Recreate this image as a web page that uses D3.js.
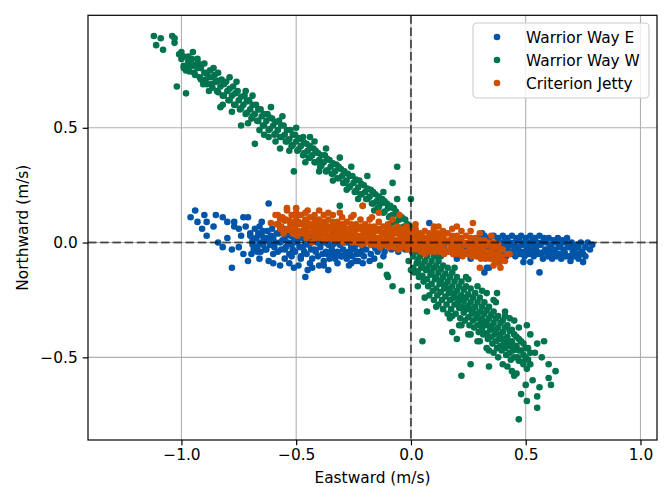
<!DOCTYPE html>
<html lang="en">
<head>
    <meta charset="UTF-8">
    <title>Eastward vs Northward velocity</title>
    <script src="https://d3js.org/d3.v7.min.js"></script>
    <style>
    body{
        margin: 0;
        background: #fff;
    }
    svg text{
        font-family: "DejaVu Sans", sans-serif;
        font-size: 15.4px;
        fill: #000;
    }
    .grid line{
        stroke: #b0b0b0;
        stroke-width: 1.1;
    }
    .axis path,
    .axis line{
        stroke: #000;
        stroke-width: 1.2;
    }
    .zero{
        stroke: #000;
        stroke-opacity: 0.6;
        stroke-width: 2;
        stroke-dasharray: 8.5,3.7;
    }
    </style>
</head>
<body>
    <script>
    var width = 666;
    var height = 487;
    var plotLeft = 88, plotRight = 657, plotTop = 15.3, plotBottom = 440;

    // data (eastward, northward) in m/s
    var seriesNames = ["Warrior Way E", "Warrior Way W", "Criterion Jetty"];
    var xTicks = [-1.0, -0.5, 0.0, 0.5, 1.0];
    var yTicks = [-0.5, 0.0, 0.5];

    var warriorWayE = [
        [-0.94,0.14],[-0.96,0.11],[-0.93,0.09],[-0.90,0.12],[-0.89,0.09],[-0.91,0.06],[-0.89,0.03],[-0.85,0.12],
        [-0.82,0.11],[-0.80,0.09],[-0.77,0.09],[-0.73,0.11],[-0.71,0.11],[-0.75,0.06],[-0.77,0.07],[-0.70,0.03],
        [-0.62,0.17],[-0.84,0.00],[-0.82,-0.02],[-0.80,0.02],[-0.78,-0.03],[-0.71,-0.08],[-0.78,-0.11],[-0.67,-0.04],
        [-0.66,-0.07],[-0.57,-0.10],[-0.53,-0.09],[-0.45,-0.12],[-0.65,0.09],[-0.645,0.05],[-0.58,0.08],[-0.74,0.03],
        [-0.69,0.00],[-0.60,-0.05],[-0.63,0.02],[-0.86,0.07],[-0.55,-0.03],[-0.52,-0.06],[-0.48,-0.07],[-0.44,-0.09],
        [-0.40,-0.10],[-0.36,-0.12],[-0.46,-0.15],[-0.51,-0.11],[-0.62,-0.08],
        [-0.60,-0.09],[-0.55,-0.07],[-0.49,-0.10],[-0.43,-0.11],[-0.38,-0.10],[-0.32,-0.09],[-0.27,-0.10],[-0.24,-0.08],
        [-0.18,-0.08],[-0.66,0.07],[-0.72,0.07],[-0.75,-0.02],[-0.73,-0.05],
        [-0.70,0.04],[-0.69,-0.01],[-0.695,-0.05],[-0.675,0.02],[-0.67,-0.02],[-0.68,0.06],
        [-0.65,0.03],[-0.645,-0.01],[-0.655,-0.04],[-0.625,0.05],[-0.62,0.01],[-0.63,-0.03],
        [-0.60,0.02],[-0.595,-0.02],[-0.605,0.06],[-0.575,0.04],[-0.57,0.00],[-0.58,-0.04],
        [-0.55,0.02],[-0.545,-0.02],[-0.555,0.06],[-0.525,0.03],[-0.52,-0.01],[-0.53,-0.05],
        [-0.50,0.04],[-0.495,0.00],[-0.505,-0.04],[-0.475,0.02],[-0.47,-0.02],[-0.48,-0.06],
        [-0.45,0.03],[-0.445,-0.01],[-0.455,-0.05],[-0.425,0.01],[-0.42,-0.03],[-0.43,-0.07],
        [-0.40,0.02],[-0.395,-0.02],[-0.405,-0.06],[-0.375,0.00],[-0.37,-0.04],[-0.38,-0.08],
        [-0.35,0.01],[-0.345,-0.03],[-0.355,-0.07],[-0.325,0.00],[-0.32,-0.04],[-0.33,-0.07],
        [-0.30,0.01],[-0.295,-0.03],[-0.305,-0.06],[-0.275,0.00],[-0.27,-0.04],[-0.28,-0.07],
        [-0.25,0.01],[-0.245,-0.03],[-0.255,-0.06],[-0.225,0.00],[-0.22,-0.04],[-0.23,-0.08],
        [-0.20,0.01],[-0.195,-0.03],[-0.205,-0.06],
        [-0.69,0.01],[-0.685,-0.03],[-0.66,0.00],[-0.665,0.04],[-0.64,0.01],[-0.635,-0.03],[-0.61,0.03],[-0.615,-0.01],
        [-0.59,0.00],[-0.585,0.04],[-0.56,0.01],[-0.565,-0.03],[-0.54,0.04],[-0.535,0.00],[-0.51,0.01],[-0.515,-0.03],
        [-0.49,0.02],[-0.485,-0.02],[-0.46,0.00],[-0.465,-0.04],[-0.44,0.01],[-0.435,-0.03],[-0.41,0.00],[-0.415,-0.04],
        [-0.39,0.00],[-0.385,-0.05],[-0.36,-0.01],[-0.365,-0.05],[-0.34,-0.01],[-0.335,-0.05],[-0.31,-0.01],[-0.315,-0.05],
        [-0.29,0.00],[-0.285,-0.05],[-0.26,-0.02],[-0.265,-0.05],[-0.24,-0.01],[-0.235,-0.05],[-0.21,-0.02],[-0.215,-0.05],
        [-0.17,-0.01],[-0.175,-0.05],[-0.14,0.00],[-0.145,-0.04],[-0.11,-0.01],[-0.115,-0.04],
        [-0.08,0.00],[-0.085,-0.03],[-0.05,-0.01],[-0.055,-0.04],[-0.02,0.00],[-0.025,-0.03],
        [0.01,-0.01],[0.005,-0.04],[0.04,0.00],[0.035,-0.03],[0.07,-0.01],[0.065,-0.04],
        [0.10,0.00],[0.095,-0.03],[0.13,-0.01],[0.125,-0.04],[0.16,0.00],[0.155,-0.04],
        [0.19,-0.01],[0.185,-0.05],[0.22,0.00],[0.215,-0.04],[0.25,-0.01],[0.245,-0.05],
        [0.28,0.01],[0.275,-0.04],
        [-0.155,-0.025],[-0.125,-0.02],[-0.095,-0.02],[-0.065,-0.025],[-0.035,-0.02],[-0.005,-0.025],[0.025,-0.02],
        [0.055,-0.025],[0.085,-0.02],[0.115,-0.025],[0.145,-0.02],[0.175,-0.03],[0.205,-0.025],[0.235,-0.03],
        [0.265,-0.025],[0.29,-0.03],[0.20,-0.07],[0.26,-0.07],[0.12,-0.06],[-0.16,-0.07],[-0.26,-0.09],[-0.12,-0.06],
        [0.08,0.085],[0.33,-0.11],[0.32,-0.13],[0.56,-0.13],[0.49,-0.085],[0.52,-0.085],[0.31,0.04],
        [-0.21,-0.09],[-0.30,-0.06],[-0.34,-0.05],[0.75,-0.085],[0.79,-0.01],[0.34,-0.11],
        [0.30,0.02],[0.305,-0.02],[0.295,-0.06],[0.32,0.03],[0.325,-0.01],[0.315,-0.05],
        [0.34,0.02],[0.345,-0.02],[0.335,-0.06],[0.36,0.03],[0.365,-0.01],[0.355,-0.05],
        [0.38,0.02],[0.385,-0.02],[0.375,-0.05],[0.40,0.03],[0.405,-0.01],[0.395,-0.05],
        [0.42,0.02],[0.425,-0.02],[0.415,-0.06],[0.44,0.03],[0.445,-0.01],[0.435,-0.05],
        [0.46,0.02],[0.465,-0.02],[0.455,-0.06],[0.48,0.03],[0.485,-0.01],[0.475,-0.05],
        [0.50,0.02],[0.505,-0.02],[0.495,-0.06],[0.52,0.03],[0.525,-0.01],[0.515,-0.05],
        [0.54,0.02],[0.545,-0.02],[0.535,-0.06],[0.56,0.03],[0.565,-0.01],[0.555,-0.05],
        [0.58,0.02],[0.585,-0.03],[0.575,-0.07],[0.60,0.02],[0.605,-0.02],[0.595,-0.06],
        [0.62,0.01],[0.625,-0.03],[0.615,-0.07],[0.64,0.02],[0.645,-0.02],[0.635,-0.06],
        [0.66,0.01],[0.665,-0.03],[0.655,-0.07],[0.68,0.02],[0.685,-0.02],[0.675,-0.06],
        [0.70,0.00],[0.705,-0.04],[0.695,-0.08],[0.72,-0.01],[0.725,-0.05],[0.715,-0.03],
        [0.74,0.00],[0.745,-0.04],[0.76,-0.02],[0.78,-0.03],[0.77,0.00],
        [0.31,0.00],[0.31,-0.035],[0.33,0.00],[0.33,-0.035],[0.35,0.00],[0.35,-0.04],[0.37,0.00],[0.37,-0.035],
        [0.39,0.00],[0.39,-0.035],[0.41,0.01],[0.41,-0.035],[0.43,0.00],[0.43,-0.04],[0.45,0.00],[0.45,-0.035],
        [0.47,0.01],[0.47,-0.035],[0.49,0.00],[0.49,-0.04],[0.51,0.00],[0.51,-0.035],[0.53,0.01],[0.53,-0.035],
        [0.55,0.00],[0.55,-0.04],[0.57,0.00],[0.57,-0.045],[0.59,0.00],[0.59,-0.04],[0.61,-0.01],[0.61,-0.045],
        [0.63,0.00],[0.63,-0.045],[0.65,-0.01],[0.65,-0.05],[0.67,0.00],[0.67,-0.045],[0.69,-0.01],[0.69,-0.06],
        [0.71,-0.02],[0.71,-0.06],[0.73,-0.02],[0.73,-0.07],[0.75,-0.05],[0.76,-0.06]
    ];

    var warriorWayW = [
        [-1.12,0.90],[-1.09,0.89],[-1.04,0.90],[-1.03,0.89],[-1.11,0.86],[-1.08,0.84],[-1.03,0.87],[-1.00,0.83],
        [-0.95,0.83],[-0.97,0.81],[-1.02,0.68],[-0.98,0.65],[-0.83,0.59],[-0.74,0.51],[-0.68,0.43],[-0.51,0.31],
        [-0.06,0.33],[-0.08,0.26],[-0.06,0.19],[0.00,0.19],[-0.21,0.16],[-0.31,0.16],
        [-0.93,0.80],[-0.88,0.66],[-0.84,0.74],[-0.78,0.57],[-0.76,0.70],[-0.71,0.52],[-0.69,0.64],[-0.64,0.47],
        [-0.61,0.59],[-0.59,0.44],[-0.56,0.55],[-0.53,0.40],[-0.50,0.50],[-0.46,0.35],[-0.44,0.46],[-0.40,0.31],
        [-0.37,0.41],[-0.34,0.27],[-0.31,0.37],[-0.28,0.23],[-0.26,0.33],[-0.23,0.19],[-0.19,0.29],[-0.16,0.14],
        [-0.12,0.22],[-0.09,0.08],
        [-1.00,0.80],[-0.99,0.77],[-1.01,0.82],[-0.97,0.79],[-0.98,0.75],[-0.965,0.77],
        [-0.95,0.77],[-0.945,0.74],[-0.955,0.80],[-0.93,0.76],[-0.92,0.72],[-0.925,0.78],
        [-0.90,0.74],[-0.895,0.71],[-0.905,0.69],[-0.88,0.72],[-0.87,0.69],[-0.875,0.75],
        [-0.85,0.70],[-0.845,0.66],[-0.855,0.73],[-0.83,0.68],[-0.82,0.64],[-0.825,0.71],
        [-0.80,0.66],[-0.795,0.62],[-0.805,0.70],[-0.78,0.64],[-0.77,0.60],[-0.775,0.68],
        [-0.75,0.62],[-0.745,0.58],[-0.755,0.66],[-0.73,0.60],[-0.72,0.56],[-0.725,0.64],
        [-0.70,0.58],[-0.695,0.54],[-0.705,0.62],[-0.68,0.56],[-0.67,0.53],[-0.675,0.60],
        [-0.65,0.55],[-0.645,0.51],[-0.655,0.58],[-0.63,0.53],[-0.62,0.49],[-0.625,0.56],
        [-0.60,0.51],[-0.595,0.47],[-0.605,0.54],[-0.58,0.49],[-0.57,0.46],[-0.575,0.53],
        [-0.55,0.47],[-0.545,0.44],[-0.555,0.51],[-0.53,0.45],[-0.52,0.42],[-0.525,0.49],
        [-0.50,0.44],[-0.495,0.40],[-0.505,0.47],[-0.48,0.42],[-0.47,0.38],[-0.475,0.45],
        [-0.45,0.40],[-0.445,0.37],[-0.455,0.43],[-0.43,0.38],[-0.42,0.35],[-0.425,0.41],
        [-0.40,0.36],[-0.395,0.33],[-0.405,0.39],[-0.38,0.35],[-0.37,0.31],[-0.375,0.38],
        [-0.35,0.33],[-0.345,0.30],[-0.355,0.36],[-0.33,0.31],[-0.32,0.28],[-0.325,0.34],
        [-0.30,0.29],[-0.295,0.26],[-0.305,0.32],[-0.28,0.27],[-0.27,0.24],[-0.275,0.30],
        [-0.25,0.26],[-0.245,0.22],[-0.255,0.29],[-0.23,0.24],[-0.22,0.21],[-0.225,0.27],
        [-0.20,0.22],[-0.195,0.19],[-0.205,0.25],[-0.18,0.20],[-0.17,0.17],[-0.175,0.23],
        [-0.15,0.18],[-0.145,0.15],[-0.155,0.21],[-0.13,0.17],[-0.12,0.13],[-0.125,0.19],
        [-0.10,0.15],[-0.095,0.11],[-0.105,0.17],[-0.08,0.12],[-0.07,0.09],[-0.075,0.15],
        [-0.05,0.10],[-0.045,0.06],[-0.055,0.12],[-0.03,0.07],[-0.02,0.04],[-0.025,0.10],
        [0.00,0.04],[0.005,0.01],[-0.005,0.07],
        [-0.99,0.81],[-0.99,0.76],[-0.965,0.795],[-0.965,0.745],[-0.94,0.775],[-0.94,0.73],[-0.915,0.76],[-0.915,0.71],
        [-0.89,0.74],[-0.89,0.69],[-0.865,0.72],[-0.865,0.675],[-0.84,0.705],[-0.84,0.655],[-0.815,0.69],[-0.815,0.64],
        [-0.79,0.67],[-0.79,0.62],[-0.765,0.65],[-0.765,0.60],[-0.74,0.635],[-0.74,0.585],[-0.715,0.615],[-0.715,0.565],
        [-0.69,0.60],[-0.69,0.55],[-0.665,0.58],[-0.665,0.53],[-0.64,0.56],[-0.64,0.51],[-0.615,0.545],[-0.615,0.495],
        [-0.59,0.525],[-0.59,0.475],[-0.565,0.51],[-0.565,0.46],[-0.54,0.49],[-0.54,0.44],[-0.515,0.47],[-0.515,0.425],
        [-0.49,0.455],[-0.49,0.405],[-0.465,0.435],[-0.465,0.39],[-0.44,0.42],[-0.44,0.37],[-0.415,0.40],[-0.415,0.35],
        [-0.39,0.38],[-0.39,0.335],[-0.365,0.365],[-0.365,0.315],[-0.34,0.345],[-0.34,0.30],[-0.315,0.33],[-0.315,0.28],
        [-0.29,0.31],[-0.29,0.26],[-0.265,0.29],[-0.265,0.245],[-0.24,0.275],[-0.24,0.225],[-0.215,0.255],[-0.215,0.21],
        [-0.19,0.235],[-0.19,0.19],[-0.165,0.22],[-0.165,0.17],[-0.14,0.20],[-0.14,0.155],[-0.115,0.18],[-0.115,0.135],
        [-0.09,0.16],[-0.09,0.115],[-0.065,0.135],[-0.065,0.09],[-0.04,0.11],[-0.04,0.065],[-0.015,0.08],[-0.015,0.035],
        [-0.86,0.76],[-0.79,0.72],[-0.72,0.66],[-0.66,0.49],[-0.62,0.46],[-0.57,0.41],[-0.47,0.46],[-0.42,0.44],
        [-0.82,0.60],[-0.90,0.78],
        [0.00,0.02],[0.01,-0.03],[-0.01,-0.08],[0.00,-0.12],
        [0.02,0.01],[0.02,-0.04],[0.025,-0.09],[0.015,-0.13],
        [0.04,-0.01],[0.04,-0.06],[0.045,-0.11],[0.035,-0.15],
        [0.06,-0.03],[0.06,-0.08],[0.065,-0.12],[0.055,-0.17],
        [0.08,-0.04],[0.08,-0.10],[0.085,-0.14],[0.075,-0.19],
        [0.10,-0.06],[0.10,-0.11],[0.105,-0.16],[0.095,-0.21],
        [0.12,-0.08],[0.12,-0.13],[0.125,-0.18],[0.115,-0.23],
        [0.14,-0.10],[0.14,-0.15],[0.145,-0.20],[0.135,-0.25],
        [0.16,-0.11],[0.16,-0.17],[0.165,-0.22],[0.155,-0.27],
        [0.18,-0.13],[0.18,-0.19],[0.185,-0.24],[0.175,-0.29],
        [0.20,-0.15],[0.20,-0.21],[0.205,-0.26],[0.195,-0.31],
        [0.22,-0.17],[0.22,-0.23],[0.225,-0.28],[0.215,-0.33],
        [0.24,-0.19],[0.24,-0.24],[0.245,-0.29],[0.235,-0.34],
        [0.26,-0.20],[0.26,-0.26],[0.265,-0.31],[0.255,-0.36],
        [0.28,-0.22],[0.28,-0.28],[0.285,-0.33],[0.275,-0.37],
        [0.30,-0.24],[0.30,-0.30],[0.305,-0.35],[0.295,-0.39],
        [0.32,-0.26],[0.32,-0.31],[0.325,-0.36],[0.315,-0.40],
        [0.34,-0.28],[0.34,-0.33],[0.345,-0.38],[0.335,-0.42],
        [0.36,-0.30],[0.36,-0.35],[0.365,-0.40],[0.355,-0.44],
        [0.38,-0.32],[0.38,-0.37],[0.385,-0.42],[0.375,-0.46],
        [0.40,-0.34],[0.40,-0.39],[0.405,-0.44],[0.395,-0.47],
        [0.42,-0.36],[0.42,-0.41],[0.425,-0.45],[0.415,-0.49],
        [0.44,-0.38],[0.44,-0.43],[0.445,-0.47],[0.435,-0.51],
        [0.46,-0.41],[0.46,-0.45],[0.465,-0.50],[0.48,-0.43],[0.48,-0.47],[0.485,-0.52],
        [0.50,-0.46],[0.50,-0.50],[0.505,-0.55],[0.52,-0.48],[0.52,-0.53],
        [0.01,-0.01],[0.01,-0.06],[0.01,-0.11],[0.03,-0.025],[0.03,-0.075],[0.03,-0.125],
        [0.05,-0.045],[0.05,-0.095],[0.05,-0.145],[0.07,-0.06],[0.07,-0.115],[0.07,-0.16],
        [0.09,-0.08],[0.09,-0.13],[0.09,-0.18],[0.11,-0.10],[0.11,-0.15],[0.11,-0.20],
        [0.13,-0.115],[0.13,-0.165],[0.13,-0.215],[0.15,-0.135],[0.15,-0.185],[0.15,-0.235],
        [0.17,-0.15],[0.17,-0.20],[0.17,-0.25],[0.19,-0.17],[0.19,-0.22],[0.19,-0.27],
        [0.21,-0.19],[0.21,-0.24],[0.21,-0.285],[0.23,-0.205],[0.23,-0.255],[0.23,-0.305],
        [0.25,-0.225],[0.25,-0.275],[0.25,-0.325],[0.27,-0.24],[0.27,-0.29],[0.27,-0.34],
        [0.29,-0.26],[0.29,-0.31],[0.29,-0.36],[0.31,-0.28],[0.31,-0.33],[0.31,-0.375],
        [0.33,-0.295],[0.33,-0.345],[0.33,-0.395],[0.35,-0.315],[0.35,-0.365],[0.35,-0.41],
        [0.37,-0.33],[0.37,-0.38],[0.37,-0.43],[0.39,-0.35],[0.39,-0.40],[0.39,-0.45],
        [0.41,-0.37],[0.41,-0.42],[0.41,-0.46],[0.43,-0.385],[0.43,-0.435],[0.43,-0.48],
        [0.45,-0.40],[0.45,-0.455],[0.45,-0.50],[0.47,-0.42],[0.47,-0.47],[0.47,-0.515],
        [0.49,-0.44],[0.49,-0.49],[0.49,-0.53],[0.51,-0.46],[0.51,-0.51],
        [0.10,-0.25],[0.14,-0.29],[0.18,-0.32],[0.22,-0.36],[0.26,-0.40],[0.30,-0.43],[0.34,-0.47],[0.38,-0.50],
        [0.42,-0.54],[0.46,-0.57],[0.25,-0.16],[0.29,-0.19],[0.33,-0.22],[0.37,-0.26],[0.41,-0.30],[0.45,-0.34],
        [0.03,-0.19],[0.06,-0.24],[0.13,-0.06],[0.19,-0.11],[0.24,-0.15],[0.31,-0.21],[0.36,-0.25],[0.43,-0.33],
        [0.47,-0.37],[0.40,-0.53],[0.44,-0.56],[0.36,-0.48],[0.16,-0.31],[0.11,-0.28],
        [0.17,-0.33],[0.21,-0.36],[0.25,-0.40],[0.29,-0.43],[0.33,-0.46],[0.12,-0.27],[0.08,-0.23],
        [0.47,-0.77],[0.505,-0.69],[0.55,-0.72],[0.55,-0.67],[0.56,-0.63],[0.61,-0.62],[0.60,-0.59],[0.63,-0.56],
        [0.60,-0.53],[0.58,-0.43],[0.55,-0.44],[0.52,-0.40],[0.505,-0.36],[0.375,-0.22],[0.41,-0.32],[0.07,-0.30],
        [0.05,-0.43],[0.22,-0.58],[0.26,-0.53],[0.34,-0.54],[0.18,-0.39],[0.20,-0.42],[-0.08,-0.19],[-0.04,-0.21],
        [-0.105,-0.14],[-0.135,-0.10],[-0.10,-0.15],[0.53,-0.60],[0.50,-0.62],[0.45,-0.58],[0.48,-0.66],[0.57,-0.50],
        [0.54,-0.48]
    ];

    var criterionJetty = [
        [-0.58,0.12],[-0.585,0.08],[-0.56,0.11],[-0.565,0.07],[-0.555,0.04],
        [-0.54,0.14],[-0.545,0.10],[-0.535,0.06],[-0.52,0.12],[-0.525,0.08],[-0.515,0.04],
        [-0.50,0.11],[-0.505,0.07],[-0.495,0.03],[-0.50,0.13],[-0.48,0.12],[-0.485,0.08],[-0.475,0.04],
        [-0.46,0.10],[-0.465,0.06],[-0.455,0.02],[-0.46,0.13],[-0.44,0.11],[-0.445,0.07],[-0.435,0.03],
        [-0.42,0.10],[-0.425,0.06],[-0.415,0.02],[-0.42,0.12],[-0.40,0.10],[-0.405,0.06],[-0.395,0.02],
        [-0.38,0.09],[-0.385,0.05],[-0.375,0.01],[-0.38,0.12],[-0.36,0.10],[-0.365,0.06],[-0.355,0.02],
        [-0.34,0.09],[-0.345,0.05],[-0.335,0.01],[-0.34,0.12],[-0.32,0.09],[-0.325,0.05],[-0.315,0.01],
        [-0.30,0.08],[-0.305,0.04],[-0.295,0.00],[-0.30,0.11],[-0.28,0.09],[-0.285,0.05],[-0.275,0.01],
        [-0.26,0.08],[-0.265,0.04],[-0.255,0.00],[-0.26,0.11],[-0.24,0.08],[-0.245,0.04],[-0.235,0.00],
        [-0.22,0.07],[-0.225,0.03],[-0.215,-0.01],[-0.22,0.10],[-0.20,0.08],[-0.205,0.04],[-0.195,0.00],
        [-0.18,0.07],[-0.185,0.03],[-0.175,-0.01],[-0.18,0.10],[-0.16,0.07],[-0.165,0.03],[-0.155,-0.01],
        [-0.14,0.06],[-0.145,0.02],[-0.135,-0.02],[-0.14,0.09],[-0.12,0.07],[-0.125,0.03],[-0.115,-0.01],
        [-0.10,0.06],[-0.105,0.02],[-0.095,-0.02],[-0.10,0.08],[-0.08,0.06],[-0.085,0.02],[-0.075,-0.02],
        [-0.06,0.05],[-0.065,0.01],[-0.055,-0.03],[-0.06,0.07],[-0.04,0.06],[-0.045,0.02],[-0.035,-0.02],
        [-0.02,0.05],[-0.025,0.01],[-0.015,-0.03],[-0.02,0.07],[0.00,0.05],[-0.005,0.01],[0.005,-0.03],
        [0.02,0.05],[0.015,0.01],[0.025,-0.03],[0.02,0.06],[0.04,0.04],[0.035,0.00],[0.045,-0.04],
        [0.06,0.05],[0.055,0.01],[0.065,-0.03],[0.06,-0.05],[0.08,0.04],[0.075,0.00],[0.085,-0.04],
        [0.10,0.04],[0.095,0.00],[0.105,-0.04],[0.10,0.06],[0.12,0.04],[0.115,0.00],[0.125,-0.04],
        [0.14,0.03],[0.135,-0.01],[0.145,-0.05],[0.14,0.05],[0.16,0.04],[0.155,0.00],[0.165,-0.04],
        [0.18,0.03],[0.175,-0.01],[0.185,-0.05],[0.18,0.06],[0.20,0.03],[0.195,-0.01],[0.205,-0.05],
        [0.22,0.02],[0.215,-0.02],[0.225,-0.06],[0.22,0.05],[0.24,0.03],[0.235,-0.01],[0.245,-0.05],
        [0.26,0.02],[0.255,-0.02],[0.265,-0.06],[0.26,0.05],[0.28,0.02],[0.275,-0.02],[0.285,-0.06],
        [0.30,0.01],[0.295,-0.03],[0.305,-0.07],[0.30,0.04],[0.32,0.01],[0.315,-0.03],[0.325,-0.07],
        [0.34,0.00],[0.335,-0.04],[0.345,-0.07],[0.36,0.00],[0.355,-0.04],[0.365,-0.08],
        [0.38,-0.01],[0.375,-0.05],[0.385,-0.09],[0.40,-0.03],[0.395,-0.06],
        [-0.57,0.10],[-0.57,0.06],[-0.55,0.095],[-0.55,0.055],[-0.53,0.095],[-0.53,0.055],[-0.51,0.09],[-0.51,0.05],
        [-0.49,0.09],[-0.49,0.05],[-0.47,0.085],[-0.47,0.045],[-0.45,0.085],[-0.45,0.045],[-0.43,0.08],[-0.43,0.04],
        [-0.41,0.08],[-0.41,0.04],[-0.39,0.075],[-0.39,0.035],[-0.37,0.075],[-0.37,0.035],[-0.35,0.07],[-0.35,0.03],
        [-0.33,0.07],[-0.33,0.03],[-0.31,0.065],[-0.31,0.025],[-0.29,0.065],[-0.29,0.025],[-0.27,0.06],[-0.27,0.02],
        [-0.25,0.06],[-0.25,0.02],[-0.23,0.06],[-0.23,0.02],[-0.21,0.055],[-0.21,0.015],[-0.19,0.055],[-0.19,0.015],
        [-0.17,0.05],[-0.17,0.01],[-0.15,0.05],[-0.15,0.01],[-0.13,0.045],[-0.13,0.005],[-0.11,0.045],[-0.11,0.005],
        [-0.09,0.04],[-0.09,0.00],[-0.07,0.04],[-0.07,0.00],[-0.05,0.035],[-0.05,-0.005],[-0.03,0.035],[-0.03,-0.005],
        [-0.01,0.03],[-0.01,-0.01],[0.01,0.03],[0.01,-0.01],[0.03,0.025],[0.03,-0.015],[0.05,0.025],[0.05,-0.015],
        [0.07,0.02],[0.07,-0.02],[0.09,0.02],[0.09,-0.02],[0.11,0.015],[0.11,-0.025],[0.13,0.015],[0.13,-0.025],
        [0.15,0.01],[0.15,-0.03],[0.17,0.01],[0.17,-0.03],[0.19,0.005],[0.19,-0.035],[0.21,0.005],[0.21,-0.035],
        [0.23,0.00],[0.23,-0.04],[0.25,0.00],[0.25,-0.04],[0.27,-0.005],[0.27,-0.045],[0.29,-0.005],[0.29,-0.045],
        [0.31,-0.01],[0.31,-0.05],[0.33,-0.01],[0.33,-0.05],[0.35,-0.015],[0.35,-0.055],[0.37,-0.02],[0.37,-0.06],
        [0.39,-0.03],[0.39,-0.07],
        [-0.50,0.15],[-0.45,0.14],[-0.36,0.13],[-0.31,0.13],[-0.25,0.12],[-0.17,0.11],[-0.08,0.10],[0.02,0.08],
        [0.12,0.07],[0.20,0.07],[0.35,0.03],[0.41,-0.08],[0.36,-0.10],
        [0.27,0.085],[0.39,-0.11],[0.39,-0.03],[0.42,-0.05],[-0.61,0.085],[-0.59,0.12],[-0.54,0.15],[-0.43,0.00],
        [-0.21,0.16],[-0.14,0.13],[-0.05,0.12],[0.43,-0.05],[0.10,0.07],[-0.40,0.14],[0.30,-0.11]
    ];

    var series = [warriorWayE, warriorWayW, criterionJetty];
    var colors = ["#0055a8", "#00734f", "#cf4f00"];

    var svg = d3.select("body")
        .append("svg")
        .attr("width", width)
        .attr("height", height);

    // scales
    var xScale = d3.scaleLinear()
        .domain([-1.407, 1.072])
        .range([plotLeft, plotRight]);

    var yScale = d3.scaleLinear()
        .domain([-0.86, 0.99])
        .range([plotBottom, plotTop]);

    // grid
    var grid = svg.append("g").attr("class", "grid");
    grid.selectAll(".gx")
        .data(xTicks).enter()
        .append("line")
        .attr("x1", function(d){ return xScale(d); })
        .attr("x2", function(d){ return xScale(d); })
        .attr("y1", plotTop)
        .attr("y2", plotBottom);
    grid.selectAll(".gy")
        .data(yTicks).enter()
        .append("line")
        .attr("y1", function(d){ return yScale(d); })
        .attr("y2", function(d){ return yScale(d); })
        .attr("x1", plotLeft)
        .attr("x2", plotRight);

    // points
    svg.append("clipPath").attr("id", "plotClip")
        .append("rect")
        .attr("x", plotLeft).attr("y", plotTop)
        .attr("width", plotRight - plotLeft).attr("height", plotBottom - plotTop);

    var dots = svg.append("g").attr("clip-path", "url(#plotClip)");
    series.forEach(function(s, i){
        dots.append("g")
            .attr("fill", colors[i])
            .selectAll("circle")
            .data(s).enter()
            .append("circle")
            .attr("cx", function(d){ return xScale(d[0]); })
            .attr("cy", function(d){ return yScale(d[1]); })
            .attr("r", 3.3);
    });

    // zero lines
    svg.append("line").attr("class", "zero")
        .attr("x1", plotLeft).attr("x2", plotRight)
        .attr("y1", yScale(0)).attr("y2", yScale(0));
    svg.append("line").attr("class", "zero")
        .attr("x1", xScale(0)).attr("x2", xScale(0))
        .attr("y1", plotTop).attr("y2", plotBottom);

    // axes
    var xAxis = d3.axisBottom(xScale)
        .tickValues(xTicks)
        .tickFormat(d3.format(".1f"))
        .tickSizeInner(5.3)
        .tickSizeOuter(0)
        .tickPadding(4);
    var yAxis = d3.axisLeft(yScale)
        .tickValues(yTicks)
        .tickFormat(d3.format(".1f"))
        .tickSizeInner(5.3)
        .tickSizeOuter(0)
        .tickPadding(5);

    svg.append("g")
        .attr("class", "axis")
        .attr("transform", "translate(0," + plotBottom + ")")
        .call(xAxis)
        .call(function(g){ g.select(".domain").remove(); })
        .selectAll("text").attr("font-size", 15.4).attr("font-family", "DejaVu Sans");

    svg.append("g")
        .attr("class", "axis")
        .attr("transform", "translate(" + plotLeft + ",0)")
        .call(yAxis)
        .call(function(g){ g.select(".domain").remove(); })
        .selectAll("text").attr("font-size", 15.4).attr("font-family", "DejaVu Sans");

    // frame
    svg.append("rect")
        .attr("x", plotLeft).attr("y", plotTop)
        .attr("width", plotRight - plotLeft).attr("height", plotBottom - plotTop)
        .attr("fill", "none")
        .attr("stroke", "#000")
        .attr("stroke-width", 1.2);

    // axis titles
    svg.append("text")
        .attr("x", (plotLeft + plotRight) / 2)
        .attr("y", 483)
        .attr("text-anchor", "middle")
        .text("Eastward (m/s)");
    svg.append("text")
        .attr("transform", "translate(28," + ((plotTop + plotBottom) / 2) + ") rotate(-90)")
        .attr("text-anchor", "middle")
        .text("Northward (m/s)");

    // legend
    var legend = svg.append("g").attr("transform", "translate(473,23)");
    legend.append("rect")
        .attr("width", 176)
        .attr("height", 75)
        .attr("rx", 4)
        .attr("fill", "#fff")
        .attr("fill-opacity", 0.8)
        .attr("stroke", "#cccccc")
        .attr("stroke-width", 1.1);
    var rows = legend.selectAll(".row")
        .data(seriesNames).enter()
        .append("g")
        .attr("transform", function(d, i){ return "translate(0," + (14 + i * 23) + ")"; });
    rows.append("circle")
        .attr("cx", 24)
        .attr("r", 3.3)
        .attr("fill", function(d, i){ return colors[i]; });
    rows.append("text")
        .attr("x", 53)
        .attr("dy", "0.36em")
        .text(function(d){ return d; });
    </script>
</body>
</html>
